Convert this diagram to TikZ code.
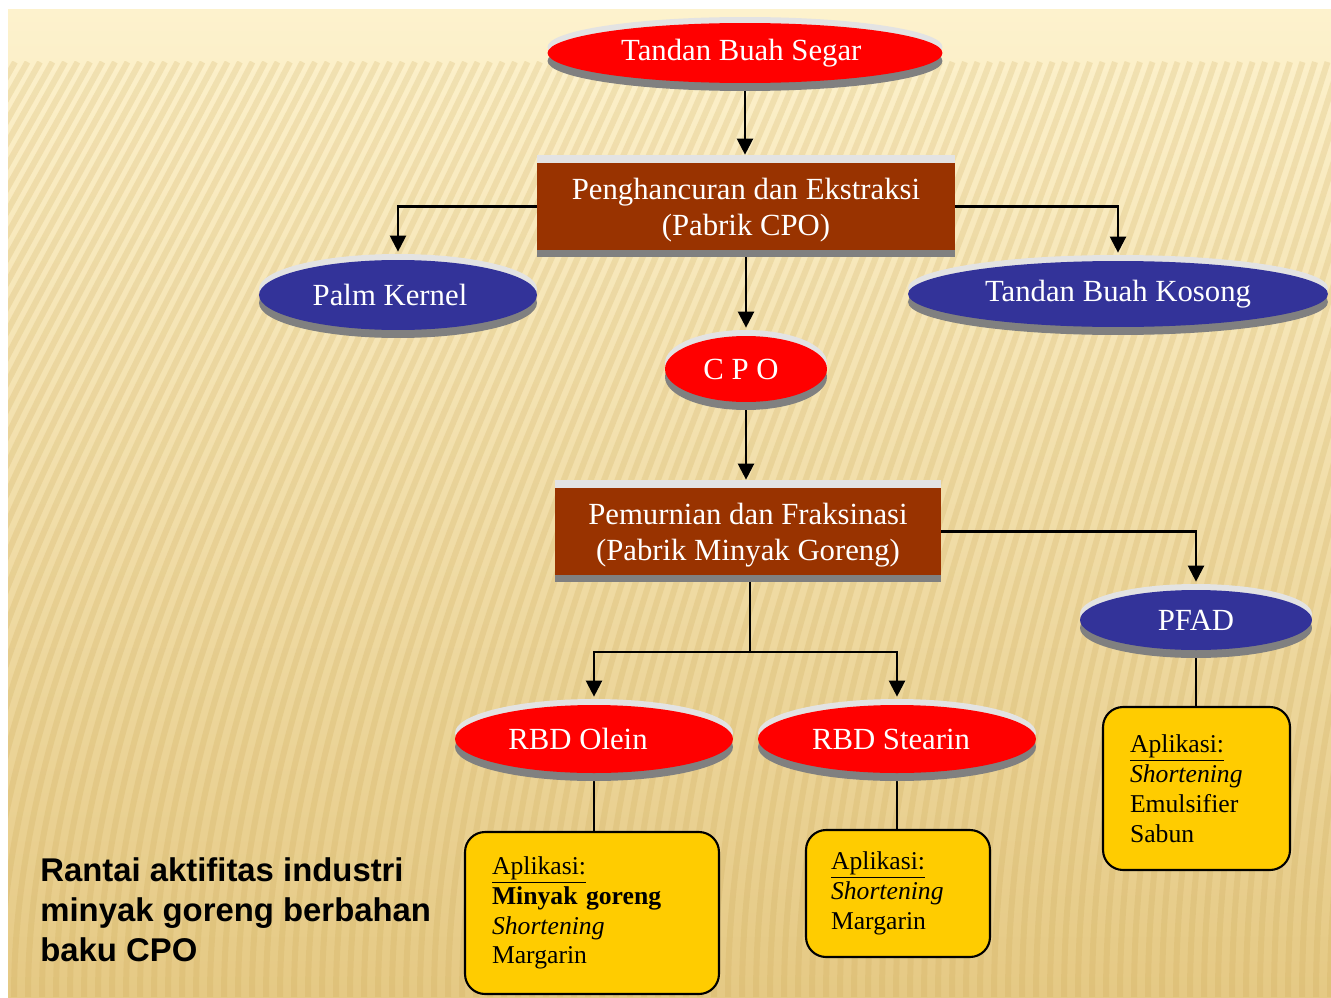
\documentclass[tikz,border=0pt]{standalone}
\usepackage{fontspec}
\setmainfont{Liberation Serif}
\newfontfamily\capfont{Liberation Sans}
\usetikzlibrary{positioning}
\usetikzlibrary{shapes,backgrounds,shadows,arrows.meta}
\definecolor{ovalred}{HTML}{FF0000}
\definecolor{ovalblue}{HTML}{333399}
\definecolor{plantbrown}{HTML}{993300}
\definecolor{appyellow}{HTML}{FFCC00}
\definecolor{hilite}{HTML}{E3E3E3}
\definecolor{shade}{HTML}{808080}
\definecolor{bgtop}{HTML}{FDF2CD}
\definecolor{bgmid}{HTML}{F6E4AE}
\definecolor{bgbot}{HTML}{E5C984}
\definecolor{stripecol}{HTML}{C8A450}

\begin{document}
\begin{tikzpicture}[x=0.02cm,y=-0.02cm,
oval/.style={ellipse,inner sep=0pt,text=white,font=\fontsize{17.5}{20}\selectfont,
  general shadow={fill=hilite,shadow yshift=0.12cm},
  general shadow={fill=shade,shadow yshift=-0.16cm}},
plant/.style={rectangle,inner sep=0pt,fill=plantbrown,text=white,align=center,
  font=\fontsize{17.5}{20.5}\selectfont,minimum height=1.74cm,text depth=-0.15cm,
  general shadow={fill=hilite,shadow yshift=0.16cm},
  general shadow={fill=shade,shadow yshift=-0.14cm}},
app/.style={rectangle,rounded corners=0.4cm,draw,line width=1.2pt,fill=appyellow,
  align=left,inner ysep=0pt,font=\fontsize{14.6}{17}\selectfont},
arr/.style={-{Triangle[length=0.32cm,width=0.32cm]},line width=1.3pt,shorten >=0.16cm},
link/.style={line width=1.3pt},
stripe/.style={draw=stripecol,opacity=0.2,line width=0.12cm}]
\useasboundingbox (0,0) rectangle (1331,997);
\node[oval,fill=ovalred,minimum width=7.9cm,minimum height=1.2cm] (tbs) at (745,53) {Tandan Buah Segar\hspace*{0.15cm}};
\node[plant,minimum width=8.36cm] (ext) at (746,206.5) {Penghancuran dan Ekstraksi\\(Pabrik CPO)};
\node[oval,fill=ovalblue,minimum width=5.56cm,minimum height=1.4cm] (pk) at (398,295) {Palm Kernel\hspace*{0.32cm}};
\node[oval,fill=ovalblue,minimum width=8.4cm,minimum height=1.32cm] (tbk) at (1118,294) {Tandan Buah Kosong};
\node[oval,fill=ovalred,minimum width=3.24cm,minimum height=1.32cm] (cpo) at (746,369) {C P O\hspace*{0.2cm}};
\node[plant,minimum width=7.72cm] (fr) at (748,531.5) {Pemurnian dan Fraksinasi\\(Pabrik Minyak Goreng)};
\node[oval,fill=ovalblue,minimum width=4.64cm,minimum height=1.2cm] (pfad) at (1196,620) {PFAD};
\node[oval,fill=ovalred,minimum width=5.56cm,minimum height=1.36cm] (olein) at (594,739) {RBD Olein\hspace*{0.64cm}};
\node[oval,fill=ovalred,minimum width=5.56cm,minimum height=1.36cm] (stearin) at (897,739) {RBD Stearin\hspace*{0.24cm}};
\node[app,inner xsep=0.54cm,text width=4cm,minimum height=3.24cm] (olbox) at (592,913)
  {\underline{Aplikasi:}\\\textbf{Minyak goreng}\\\textit{Shortening}\\Margarin};
\node[app,inner xsep=0.5cm,text width=2.68cm,minimum height=2.54cm] (stbox) at (898,893.5)
  {\underline{Aplikasi:}\\\textit{Shortening}\\Margarin};
\node[app,inner xsep=0.54cm,text width=2.66cm,minimum height=3.26cm] (pfbox) at (1196.5,788.5)
  {\underline{Aplikasi:}\\\textit{Shortening}\\Emulsifier\\Sabun};
\node[anchor=west,align=left,inner sep=0pt,font=\capfont\bfseries\fontsize{18.7}{22.7}\selectfont] (caption) at (40,910)
  {Rantai aktifitas industri\\minyak goreng berbahan\\baku CPO};
\coordinate (split) at (750,652);
\begin{scope}[on background layer]
\fill[top color=bgtop,middle color=bgmid,bottom color=bgbot] (8,10) rectangle (1331,997);
\begin{scope}
\clip (8,62) rectangle (1331,997);
\foreach \i in {-30,...,96}
  \draw[stripe] (\i*14,997) .. controls (\i*14,700) and (\i*14+170-0.7*\i,400) .. (\i*14+340-1.5*\i,62);
\end{scope}
\draw[arr] (tbs) -- (tbs |- ext.north);
\draw[arr] (ext.west) -| (pk.north);
\draw[arr] (ext.east) -| (tbk.north);
\draw[arr] (ext) -- (ext |- cpo.north);
\draw[arr] (cpo) -- (cpo |- fr.north);
\draw[arr] (fr.east) -| (pfad.north);
\draw[link] (split |- fr.south) -- (split);
\draw[arr] (split) -| (olein.north);
\draw[arr] (split) -| (stearin.north);
\draw[link] (olein) -- (olein |- olbox.north);
\draw[link] (stearin) -- (stearin |- stbox.north);
\draw[link] (pfad) -- (pfad |- pfbox.north);
\end{scope}
\end{tikzpicture}
\end{document}
